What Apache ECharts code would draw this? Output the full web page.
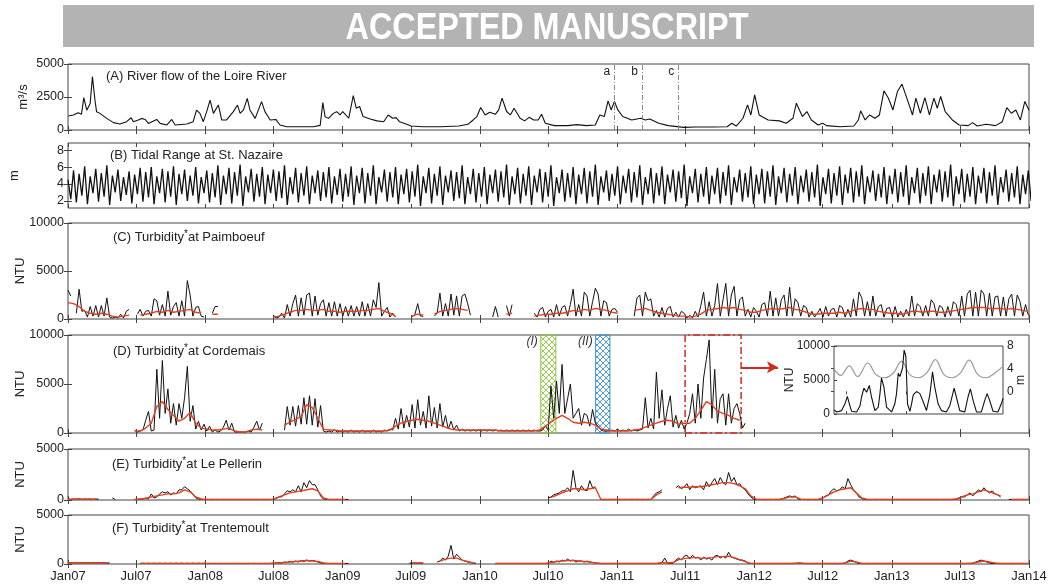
<!DOCTYPE html>
<html><head><meta charset="utf-8">
<script src="https://cdn.jsdelivr.net/npm/echarts@6/dist/echarts.min.js"></script>
<style>html,body{margin:0;padding:0;background:#fff}#c{width:1049px;height:584px}</style>
</head><body><div id="c"></div>
<script>
// ---------------- DATA ----------------
// x axis: days since 1 Jan 2007
const tickDays = [0,181,365,547,731,912,1096,1277,1461,1642,1826,2008,2192,2373,2557];
const tickLabels = ['Jan07','Jul07','Jan08','Jul08','Jan09','Jul09','Jan10','Jul10','Jan11','Jul11','Jan12','Jul12','Jan13','Jul13','Jan14'];
const STEP = 7.385; // digitizing interval of tide / turbidity records (days)

// (A) river flow, [day, m3/s]
const flow = [[1,1060],[14,1140],[27,1310],[36,1200],[42,2450],[50,1500],[59,2000],[65,4040],[72,2200],[76,1390],[85,1260],[103,880],[121,560],[138,450],[156,630],[168,930],[174,630],[187,760],[196,880],[205,800],[214,500],[236,800],[245,500],[263,380],[276,800],[285,380],[316,450],[333,630],[342,1500],[351,1260],[360,630],[369,1390],[378,2270],[387,1260],[400,1900],[409,760],[422,760],[440,1390],[451,1890],[458,1260],[467,1520],[477,2400],[484,1520],[498,880],[515,2150],[524,1390],[538,760],[553,800],[564,380],[582,250],[617,250],[653,250],[671,350],[678,2070],[684,1010],[693,880],[706,1260],[715,1390],[724,1140],[731,1400],[747,890],[759,2610],[767,1650],[776,1780],[785,1020],[804,840],[822,690],[840,630],[852,1140],[864,890],[873,940],[882,630],[894,510],[913,300],[943,250],[991,250],[1040,300],[1064,430],[1078,760],[1088,1020],[1098,1700],[1110,1140],[1122,1350],[1137,1190],[1146,1520],[1155,2410],[1167,1400],[1177,1140],[1187,1650],[1203,890],[1215,690],[1227,960],[1239,760],[1251,760],[1260,1190],[1270,510],[1294,330],[1330,330],[1354,410],[1379,330],[1403,380],[1415,1140],[1427,1020],[1437,2210],[1445,1520],[1454,2160],[1463,1520],[1476,1020],[1500,760],[1524,890],[1536,760],[1548,840],[1572,510],[1597,330],[1639,200],[1669,230],[1717,230],[1754,250],[1766,510],[1778,300],[1796,890],[1808,1900],[1817,1140],[1827,2660],[1839,1140],[1863,760],[1893,690],[1911,510],[1929,890],[1938,2030],[1954,1020],[1966,1400],[1978,760],[1996,380],[2008,510],[2018,330],[2055,250],[2091,300],[2103,760],[2109,1450],[2121,760],[2133,1140],[2147,890],[2159,1140],[2171,2970],[2183,2410],[2195,1520],[2207,2920],[2219,3480],[2232,2410],[2247,1140],[2256,2410],[2268,1270],[2280,2460],[2292,1140],[2304,2410],[2313,1650],[2322,2540],[2334,1400],[2353,760],[2371,380],[2395,330],[2407,560],[2419,300],[2443,430],[2468,330],[2486,630],[2498,1700],[2510,1270],[2522,1520],[2534,760],[2546,2160],[2557,1500]];
const flowMarks = [['a',1453],['b',1527],['c',1624]];

// (B) tidal range at St Nazaire (m), one value per STEP
const tide = [
4.5,2.2,5.6,1.8,5.2,2.6,6.1,1.6,4.9,2.9,5.8,1.9,5.3,2.5,6.2,1.5,5.0,3.0,5.7,2.0,4.8,2.7,5.5,1.7,5.1,2.8,5.9,1.9,5.4,2.4,6.0,1.6,4.9,2.9,5.8,1.8,5.5,2.5,6.1,1.5,5.2,2.8,5.7,2.0,5.0,2.6,6.0,1.7,4.8,2.9,
5.6,1.8,5.3,2.4,6.2,1.5,5.0,2.8,5.9,1.7,5.4,2.6,6.3,1.4,4.9,3.0,5.8,1.9,5.2,2.5,6.0,1.6,5.1,2.9,5.7,2.0,5.5,2.3,6.2,1.5,4.8,2.8,5.9,1.8,5.3,2.6,6.1,1.6,5.0,2.9,5.6,2.0,5.4,2.4,6.0,1.7,4.9,2.7,5.8,1.9,
5.2,2.5,6.1,1.5,5.0,2.9,5.9,1.7,5.3,2.6,6.2,1.6,4.8,3.0,5.7,1.9,5.4,2.4,6.0,1.6,5.1,2.8,5.8,1.8,5.5,2.5,6.3,1.4,4.9,2.9,5.9,1.7,5.2,2.6,6.1,1.5,5.0,3.0,5.6,2.0,5.4,2.3,6.2,1.6,4.8,2.8,5.8,1.8,5.3,2.5,
6.0,1.6,5.1,2.9,5.7,1.9,5.5,2.4,6.3,1.5,4.9,2.8,5.9,1.7,5.2,2.6,6.1,1.5,5.0,3.0,5.8,1.8,5.4,2.5,6.2,1.4,4.8,2.9,5.7,1.9,5.3,2.4,6.0,1.6,5.1,2.8,5.9,1.7,5.5,2.5,6.3,1.5,4.9,3.0,5.6,2.0,5.2,2.6,6.1,1.6,
5.0,2.9,5.8,1.8,5.4,2.4,6.2,1.5,4.8,2.8,5.9,1.7,5.3,2.6,6.1,1.6,5.1,3.0,5.7,1.9,5.5,2.3,6.3,1.4,4.9,2.9,5.8,1.8,5.2,2.5,6.0,1.6,5.0,2.8,5.9,1.7,5.4,2.6,6.2,1.5,4.8,3.0,5.7,1.9,5.3,2.4,6.1,1.6,5.1,2.8,
5.8,1.7,5.5,2.5,6.2,1.5,4.9,2.9,5.9,1.8,5.2,2.6,6.0,1.6,5.0,3.0,5.7,1.9,5.4,2.4,6.3,1.4,4.8,2.8,5.8,1.7,5.3,2.6,6.1,1.5,5.1,2.9,5.9,1.8,5.5,2.5,6.2,1.6,4.9,3.0,5.6,2.0,5.2,2.4,6.0,1.6,5.0,2.8,5.8,1.8,
5.4,2.5,6.2,1.5,4.8,2.9,5.9,1.7,5.3,2.6,6.1,1.6,5.1,3.0,5.7,1.9,5.5,2.4,6.3,1.4,4.9,2.8,5.8,1.8,5.2,2.5,6.0,1.6,5.0,2.9,5.9,1.7,5.4,2.6,6.2,1.5,4.8,3.0,5.7,1.9,5.3,2.4,6.1,1.6,5.1,2.8,5.6,2.0,4.5];

// (C) Paimboeuf turbidity (NTU), raw (one per STEP) and smoothed (one per 2*STEP)
const paimRaw = [
3000,2400,null,600,3100,800,900,200,1300,300,
1400,200,1400,300,2200,200,100,200,100,500,
100,800,1000,null,null,500,1000,300,800,900,
300,2100,1900,400,1500,300,2900,400,1300,1700,
300,1900,300,4000,2500,300,1200,1300,300,200,
null,null,600,1300,1300,null,null,null,null,null,
null,null,null,null,null,null,null,null,null,null,
null,null,null,null,400,100,200,600,100,1500,
300,1600,2500,300,2200,400,2500,2700,300,2400,
400,1600,2000,300,1700,300,1800,300,1600,300,
1300,300,1400,300,1300,300,1800,300,1600,300,
2000,1200,3800,300,800,1200,200,600,200,null,
null,null,null,null,200,500,1600,300,300,null,
null,null,300,600,2700,300,1600,300,2600,400,
2400,300,2400,2600,1600,400,null,null,null,null,
null,null,null,200,1300,200,null,null,1400,300,
1500,null,null,null,null,null,null,null,600,200,
1000,1200,200,800,1000,200,1500,300,1200,1400,
300,1500,3100,300,1500,300,2800,2400,300,1800,
3200,2600,300,1900,1700,300,1000,1100,700,null,
null,null,null,null,300,2200,2500,300,2800,1900,
2100,300,900,200,1200,200,1100,1300,200,700,
200,800,600,100,400,100,800,200,1400,2800,
300,1800,300,1400,3700,300,2000,3700,300,2500,
3400,300,2000,2300,300,1000,200,1200,800,200,
1500,1700,300,2900,300,2200,300,2000,2500,300,
3300,300,2100,1700,300,1400,1200,200,800,200,
600,1100,200,1300,300,1000,1100,200,1400,1200,
200,1000,200,2100,300,2800,2200,300,1800,300,
2400,300,1300,1500,200,1100,1200,200,1300,200,
800,200,1000,300,2400,300,1600,1300,300,1400,
300,2000,1600,300,1400,1200,200,1300,300,1800,
1500,300,2400,300,2600,3000,300,2800,300,3000,
2600,300,2700,300,2300,2400,300,2300,300,2100,
2600,300,2500,1800,300,1500,400];
const paimSmooth = [
1700,1600,1300,800,600,500,600,500,300,200,
300,400,null,400,500,600,800,700,900,700,
800,900,1000,700,600,null,500,500,null,null,
null,null,null,null,null,null,null,200,300,500,
700,900,900,1000,900,900,1000,800,800,700,
800,800,800,900,900,1000,1100,800,600,300,
null,null,300,500,400,null,500,800,900,1000,
1100,1000,900,null,null,null,null,null,null,500,
600,null,null,null,300,400,500,500,600,600,
700,900,800,1000,900,1100,1000,900,700,600,
null,null,900,1000,1100,900,700,600,500,400,
300,300,200,300,500,900,1000,1100,1200,1100,
1200,1000,900,700,700,900,1000,1100,1000,1100,
1200,1000,900,700,500,500,600,600,600,700,
600,800,1000,1100,1000,1000,800,700,600,600,
500,600,800,800,700,800,800,700,700,800,
900,1000,1100,1200,1200,1200,1100,1100,1100,1000,
1100,1000,900,800];

// (D) Cordemais
const cordRaw = [
null,null,null,null,null,null,null,null,null,null,
null,null,null,null,null,null,null,null,null,null,
null,null,null,null,300,100,200,300,1300,2200,
200,300,6500,1500,7400,2000,4500,1000,3000,800,
3000,1500,3600,6800,1200,2800,400,1200,300,900,
200,700,100,300,100,200,600,1300,300,1000,
100,100,100,100,100,200,100,600,1200,300,
1000,null,null,null,null,null,null,null,300,2700,
800,2700,700,2800,900,3600,900,3800,800,3500,
600,2800,200,100,200,100,300,100,200,100,
200,100,300,100,200,100,300,100,200,100,
300,100,200,100,300,200,400,300,1500,400,
2500,500,1800,600,2900,500,3400,800,2200,500,
3800,700,2600,500,3000,600,1800,400,1200,300,
800,200,400,200,300,200,300,200,300,200,
300,200,300,200,300,200,300,200,300,200,
300,200,300,200,300,200,300,200,300,200,
200,300,700,300,4800,1500,5300,2000,7000,2000,
3500,5000,1500,2000,2500,800,2000,1800,700,2400,
1000,700,300,200,200,200,300,200,400,200,
300,200,400,200,300,200,300,400,3600,500,
1500,400,6200,1500,4400,800,2500,3800,600,1800,
500,1300,400,1000,2000,4000,1000,5000,1500,5600,
7500,9500,1500,6500,1000,3500,4000,800,4000,1000,
2500,3000,2000,500,1000,null,null,null,null,null,
null,null,null,null,null,null,null,null,null,null,
null,null,null,null,null,null,null,null,null,null,
null,null,null,null,null,null,null,null,null,null,
null,null,null,null,null,null,null,null,null,null,
null,null,null,null,null,null,null,null,null,null,
null,null,null,null,null,null,null,null,null,null,
null,null,null,null,null,null,null,null,null,null,
null,null,null,null,null,null,null,null,null,null,
null,null,null,null,null,null,null,null,null,null,
null,null,null,null,null,null,null];
const cordSmooth = [
null,null,null,null,null,null,null,null,null,null,
null,null,200,200,500,1000,2700,3200,2400,1800,
1200,1500,2100,1000,500,400,300,300,400,500,
200,100,100,300,400,300,null,null,null,800,
1100,1400,1700,2900,2600,1500,400,300,300,200,
200,200,200,200,200,200,200,200,300,700,
1000,1200,1300,1400,1300,1200,1000,800,600,400,
300,300,300,300,300,300,300,300,200,200,
200,200,200,200,200,300,700,1100,1500,1800,
1500,1100,1000,1100,1000,800,400,300,200,200,
200,200,300,400,600,800,1000,1200,1300,1200,
900,1000,1000,1500,2300,3200,2900,2200,2000,1800,
1500,1300,null,null,null,null,null,null,null,null,
null,null,null,null,null,null,null,null,null,null,
null,null,null,null,null,null,null,null,null,null,
null,null,null,null,null,null,null,null,null,null,
null,null,null,null,null,null,null,null,null,null,
null,null,null,null];

// (E) Le Pellerin
const pellRaw = [
100,60,100,80,120,60,100,80,100,60,
100,80,null,null,null,null,200,50,null,null,
null,null,null,null,50,80,100,100,200,100,
600,200,300,600,800,700,800,500,700,600,
1000,1000,1300,1100,900,600,200,100,60,50,
60,50,60,50,60,50,60,50,60,50,
60,50,60,50,60,50,60,50,60,50,
60,50,60,50,80,150,300,300,600,900,
800,1000,800,1400,800,1700,1200,1900,1500,1500,
1000,400,100,60,50,60,50,60,50,60,
50,60,null,null,null,null,null,null,null,null,
null,null,null,null,null,null,null,null,null,null,
null,null,null,null,null,null,null,null,null,null,
null,null,null,null,null,null,null,null,null,null,
null,null,null,null,null,null,null,null,null,null,
null,null,null,null,null,null,null,null,null,null,
null,null,null,null,null,null,null,null,null,null,
null,null,null,200,300,500,600,700,900,900,
1200,800,2900,1200,800,1400,1000,900,1900,1200,
1300,null,50,60,50,60,50,60,50,60,
50,60,50,60,50,60,50,60,50,60,
50,400,700,800,1000,null,null,null,null,1200,
1400,1100,1300,1600,1000,1400,1200,1300,1400,1000,
1800,1300,1700,2100,1500,2200,1700,1500,2700,1800,
2200,1500,1600,1200,1000,600,300,80,50,60,
50,60,50,60,50,60,50,60,200,300,
400,300,400,100,50,60,50,60,50,60,
50,60,200,400,500,900,1100,900,1000,1300,
1100,2100,1500,1000,700,300,150,50,60,50,
50,60,50,60,50,60,50,60,50,60,
50,60,50,60,50,60,50,60,50,60,
50,60,50,60,50,60,50,60,50,60,
80,150,300,300,500,700,400,700,1000,800,
1200,900,700,900,600,500,300,null,null,50,
60,50,60,50,60,50,60];
const pellSmooth = [
80,80,80,80,80,80,null,null,null,null,
null,null,50,80,150,300,400,500,600,600,
700,1000,800,300,100,50,50,50,50,50,
50,50,50,50,50,50,50,80,300,500,
700,800,900,1000,1100,900,200,50,50,50,
50,null,null,null,null,null,null,null,null,null,
null,null,null,null,null,null,null,null,null,null,
null,null,null,null,null,null,null,null,null,null,
null,null,null,null,null,null,null,250,450,700,
900,1100,1100,1000,1100,1200,50,50,50,50,
50,50,50,50,50,50,500,800,null,null,
1200,1250,1250,1300,1300,1400,1500,1600,1700,1700,
1600,1400,1100,400,80,50,50,50,50,150,
300,300,80,50,50,50,200,500,800,1000,
1100,1200,700,200,50,50,50,50,50,50,
50,50,50,50,50,50,50,50,50,50,
100,300,500,600,800,1000,800,600,400,null,
50,50,50,50];

// (F) Trentemoult
const trenRaw = [
100,150,100,150,100,150,100,150,100,150,100,150,100,150,100,120,
null,null,null,null,null,null,null,null,null,null,
50,80,50,80,50,80,50,80,50,80,50,80,50,80,50,80,50,80,50,80,50,80,50,80,
50,60,50,60,50,60,50,60,50,60,50,60,50,60,50,60,50,60,50,60,50,60,50,60,
80,100,150,100,200,150,250,200,300,200,350,250,400,300,350,300,200,100,80,50,50,50,50,50,50,50,50,50,
null,null,null,null,null,null,null,null,null,null,null,null,null,null,null,null,null,null,null,null,null,
100,80,100,80,100,80,
null,null,null,null,
200,300,600,400,800,1900,500,1000,700,400,300,200,150,100,80,
null,null,null,null,null,null,
50,60,50,60,50,60,50,60,50,60,50,60,50,60,50,60,50,60,50,60,
300,150,300,200,400,300,500,300,400,200,300,300,200,300,200,150,100,80,
50,60,50,60,50,60,50,60,50,60,50,60,50,60,50,60,50,60,50,60,50,60,
150,600,100,50,80,400,600,400,800,900,500,900,600,700,
400,700,500,600,400,800,900,600,800,600,1200,700,600,500,400,400,300,100,
50,60,50,60,50,60,50,60,50,60,50,60,50,60,50,60,50,
100,100,
50,60,50,60,50,60,50,60,50,60,50,60,50,60,50,
100,
300,400,300,150,
50,60,50,60,50,60,50,60,50,60,50,60,50,60,50,60,50,60,50,60,50,60,50,60,50,60,50,60,50,60,50,60,50,60,50,60,50,60,50,60,50,60,
200,300,400,300,200,100,
50,60,50,60,50,60,50,60,50,60,50,60,50,60];
const trenSmooth = [
100,100,100,100,100,100,100,100,
null,null,null,null,null,
60,60,60,60,60,60,60,60,60,60,60,60,60,60,60,60,60,60,60,60,60,60,60,60,
80,100,150,200,250,300,350,300,250,100,
50,50,50,50,
null,null,null,null,null,null,null,null,null,null,null,
100,100,100,
null,null,
300,500,600,600,400,250,100,
null,null,null,
50,50,50,50,50,50,50,50,50,50,
150,250,300,350,350,300,250,200,100,
50,50,50,50,50,50,50,50,50,50,50,
150,100,150,450,550,650,650,600,600,650,750,750,800,650,450,250,
50,50,50,50,50,50,50,50,80,80,50,50,50,50,50,50,50,
100,300,200,
50,50,50,50,50,50,50,50,50,50,50,50,50,50,50,50,50,50,50,50,
100,200,300,200,100,
50,50,50,50,50,50];

// hatched periods (I), (II), zoom window in (D)
const periodI = [1258, 1298];
const periodII = [1404, 1442];
const zoomWin = [1642, 1791];

// inset: NTU at Cordemais and water level (m) over the zoom window (t: 0-100)
const insetNTU = [[0,600],[1.6,300],[4.5,500],[6.5,1500],[7.9,2600],[9.1,1500],[10.4,400],[13.4,300],[15.4,1200],[16.3,2500],[17.7,3800],[19.3,3200],[20.9,4200],[22.2,2500],[24.2,500],[26.2,1000],[27.2,3000],[28.1,5300],[29.5,4000],[31.1,1000],[34.1,300],[36,1500],[37,3000],[38,6000],[39,5500],[40.6,6800],[41.5,9400],[42.5,8500],[43.5,1500],[44.9,400],[45.9,1500],[46.9,2800],[48.8,3300],[50.8,3000],[52.8,1800],[54.7,500],[56.7,2800],[58.3,6200],[59.6,4000],[61.6,1500],[63.6,500],[66.5,300],[68.5,1200],[71.1,3800],[72.4,2500],[74.4,500],[77.4,300],[79.3,2500],[80.7,3700],[82.3,2000],[84.3,300],[87.2,300],[89.2,2000],[90.6,3000],[92.1,2000],[94.1,400],[97,300],[99,1500],[100,2300]];
const insetTide = [[0,4.0],[4,2.8],[9,4.5],[14,2.6],[20,5.0],[25,2.9],[30,2.4],[35,3.2],[40,5.3],[45,2.9],[50,2.4],[55,3.3],[60,5.6],[65,3.0],[70,2.4],[75,3.3],[80,5.5],[85,3.0],[90,2.4],[95,3.2],[100,4.4]];

// ---------------- CHART ----------------
const FONT = "'Liberation Sans', Arial, sans-serif";
const BLACK = '#111', RED = '#e0401f', AX = '#444';
function hatch(color){
  const c = document.createElement('canvas'); c.width = 6; c.height = 6;
  const g = c.getContext('2d'); g.strokeStyle = color; g.lineWidth = 0.9;
  g.beginPath(); g.moveTo(0,0); g.lineTo(6,6); g.moveTo(6,0); g.lineTo(0,6); g.stroke();
  return {image: c, repeat: 'repeat'};
}
const plain = v => String(v);
const panels = [
  {top:64, h:66, min:0, max:5000, ticks:[0,2500,5000], name:'m³/s', gap:38},
  {top:143, h:65, min:1.15, max:8.85, ticks:[2,4,6,8], name:'m', gap:47},
  {top:223, h:96, min:0, max:10000, ticks:[0,5000,10000], name:'NTU', gap:41},
  {top:335, h:98, min:0, max:10000, ticks:[0,5000,10000], name:'NTU', gap:41},
  {top:449, h:51, min:0, max:5000, ticks:[0,5000], name:'NTU', gap:41},
  {top:515, h:49, min:0, max:5000, ticks:[0,5000], name:'NTU', gap:41}
];
const grid = [], xAxis = [], yAxis = [];
panels.forEach((p, k) => {
  grid.push({left:68, right:20, top:p.top, height:p.h, show:true, borderColor:AX, borderWidth:1, containLabel:false, outerBoundsMode:'none'});
  [ 'bottom', 'top' ].forEach(pos => xAxis.push({
    type:'value', gridIndex:k, position:pos, min:0, max:2557,
    axisLine:{show:false}, splitLine:{show:false},
    axisTick:{show:true, inside:true, length:4, customValues:tickDays, lineStyle:{color:AX}},
    axisLabel:{show: (k===5 && pos==='bottom'), customValues:tickDays, margin:6,
      formatter: v => tickLabels[tickDays.indexOf(Math.round(v))] || '', color:'#222', fontSize:13, fontFamily:FONT}
  }));
  [ 'left', 'right' ].forEach(pos => yAxis.push({
    type:'value', gridIndex:k, position:pos, min:p.min, max:p.max,
    name: pos==='left' ? p.name : '', nameLocation:'middle', nameRotate:90, nameGap:p.gap, nameMoveOverlap:false,
    nameTextStyle:{fontSize:13, color:'#222', fontFamily:FONT},
    axisLine:{show:false}, splitLine:{show:false},
    axisTick:{show:true, inside:true, length:4, customValues:p.ticks, lineStyle:{color:AX}},
    axisLabel:{show: pos==='left', customValues:p.ticks, formatter:plain, margin:4, color:'#222', fontSize:12.5, fontFamily:FONT}
  }));
});
// inset grid (index 6)
grid.push({left:834, top:346, width:169, height:68, show:true, borderColor:AX, borderWidth:1, backgroundColor:'#fff', outerBoundsMode:'none'});
['bottom','top'].forEach(pos => xAxis.push({type:'value', gridIndex:6, position:pos, min:0, max:100,
  axisLine:{show:false}, splitLine:{show:false}, axisLabel:{show:false},
  axisTick:{show:true, inside:true, length:3, customValues:[7,42.5], lineStyle:{color:AX}}}));
yAxis.push({type:'value', gridIndex:6, position:'left', min:0, max:10000,
  name:'NTU', nameLocation:'middle', nameRotate:90, nameGap:38, nameMoveOverlap:false,
  nameTextStyle:{fontSize:12, color:'#222', fontFamily:FONT},
  axisLine:{show:false}, splitLine:{show:false},
  axisTick:{show:true, inside:true, length:3, customValues:[0,5000,10000], lineStyle:{color:AX}},
  axisLabel:{customValues:[0,5000,10000], formatter:plain, margin:4, color:'#222', fontSize:12, fontFamily:FONT}});
yAxis.push({type:'value', gridIndex:6, position:'right', min:-4, max:8,
  name:'m', nameLocation:'middle', nameRotate:90, nameGap:12, nameMoveOverlap:false,
  nameTextStyle:{fontSize:12, color:'#222', fontFamily:FONT},
  axisLine:{show:false}, splitLine:{show:false},
  axisTick:{show:true, inside:true, length:3, customValues:[0,4,8], lineStyle:{color:AX}},
  axisLabel:{customValues:[0,4,8], formatter:plain, margin:4, color:'#222', fontSize:12, fontFamily:FONT}});

const rawPts = arr => arr.map((v, i) => [i * STEP, v]);
const smoothPts = arr => arr.map((v, j) => [j * 2 * STEP, v]);
const line = (k, data, color, width, extra) => Object.assign({
  type:'line', xAxisIndex:2*k, yAxisIndex:2*k, data, showSymbol:false, symbol:'none',
  lineStyle:{color, width}, itemStyle:{color}, connectNulls:false, silent:true, animation:false
}, extra || {});

const series = [
  line(0, flow, BLACK, 1.1, {
    markLine:{silent:true, symbol:'none', label:{show:false},
      lineStyle:{color:'#888', width:1, type:[5,2,1,2]},
      data: flowMarks.map(m => ({xAxis:m[1]}))},
    markPoint:{silent:true, symbolSize:0,
      label:{show:true, position:'left', distance:4, color:'#222', fontSize:12, fontFamily:FONT, formatter: p => p.name},
      data: flowMarks.map(m => ({name:m[0], coord:[m[1], 4400]}))}
  }),
  line(1, rawPts(tide), BLACK, 1.3),
  line(2, rawPts(paimRaw), BLACK, 1),
  line(2, smoothPts(paimSmooth), RED, 1.4),
  line(3, rawPts(cordRaw), BLACK, 1, {
    markArea:{silent:true, data:[
      [{xAxis:periodI[0], itemStyle:{color:hatch('#8dc63f'), borderColor:'#8dc63f', borderWidth:1}}, {xAxis:periodI[1]}],
      [{xAxis:periodII[0], itemStyle:{color:hatch('#3a8fd6'), borderColor:'#3a8fd6', borderWidth:1}}, {xAxis:periodII[1]}],
      [{xAxis:zoomWin[0], itemStyle:{color:'rgba(0,0,0,0)', borderColor:'#d42a1e', borderWidth:1.5, borderType:[7,3,2,3]}}, {xAxis:zoomWin[1]}]
    ]},
    markLine:{silent:true, symbol:['none','arrow'], symbolSize:[9,11], label:{show:false},
      lineStyle:{color:'#d42a1e', width:1.8, type:'solid'},
      data:[[{coord:[zoomWin[1], 6700]}, {coord:[zoomWin[1] + 98, 6700]}]]},
    markPoint:{silent:true, symbolSize:0,
      label:{show:true, position:'left', distance:3, color:'#333', fontSize:12, fontStyle:'italic', fontFamily:FONT, formatter:p => p.name},
      data:[{name:'(I)', coord:[periodI[0], 9300]}, {name:'(II)', coord:[periodII[0], 9300]}]}
  }),
  line(3, smoothPts(cordSmooth), RED, 1.4),
  line(4, rawPts(pellRaw), BLACK, 1),
  line(4, smoothPts(pellSmooth), RED, 1.4),
  line(5, rawPts(trenRaw), BLACK, 1),
  line(5, smoothPts(trenSmooth), RED, 1.4),
  {type:'line', xAxisIndex:12, yAxisIndex:13, data:insetTide, smooth:0.4, showSymbol:false, symbol:'none',
    lineStyle:{color:'#9a9a9a', width:1.2}, silent:true, animation:false},
  {type:'line', xAxisIndex:12, yAxisIndex:12, data:insetNTU, showSymbol:false, symbol:'none',
    lineStyle:{color:BLACK, width:1.1}, silent:true, animation:false}
];

const titleRich = {sup:{fontSize:10, verticalAlign:'top', fontFamily:FONT, fill:'#222', padding:[0,0,6,0]}};
const mkTitle = (x, y, txt) => ({type:'text', x, y, style:{text:txt, fill:'#222', font:'13px ' + FONT, textVerticalAlign:'middle', rich:titleRich}});
const graphic = [
  {type:'rect', shape:{x:63, y:5, width:971, height:42}, style:{fill:'#b3b3b3'}},
  {type:'text', x:547, y:29, scaleX:0.875, style:{text:'ACCEPTED MANUSCRIPT', fill:'#fff', font:"bold 37px 'Liberation Sans', Arial", textAlign:'center', textVerticalAlign:'middle'}},
  mkTitle(106, 76, '(A) River flow of the Loire River'),
  mkTitle(110, 155, '(B) Tidal Range at St. Nazaire'),
  mkTitle(113, 237, '(C) Turbidity{sup|*}at Paimboeuf'),
  mkTitle(113, 351, '(D) Turbidity{sup|*}at Cordemais'),
  mkTitle(112, 464, '(E) Turbidity{sup|*}at Le Pellerin'),
  mkTitle(112, 528, '(F) Turbidity{sup|*}at Trentemoult')
];

const chart = echarts.init(document.getElementById('c'));
chart.setOption({animation:false, backgroundColor:'#fff', textStyle:{fontFamily:FONT}, grid, xAxis, yAxis, series, graphic});
</script></body></html>
